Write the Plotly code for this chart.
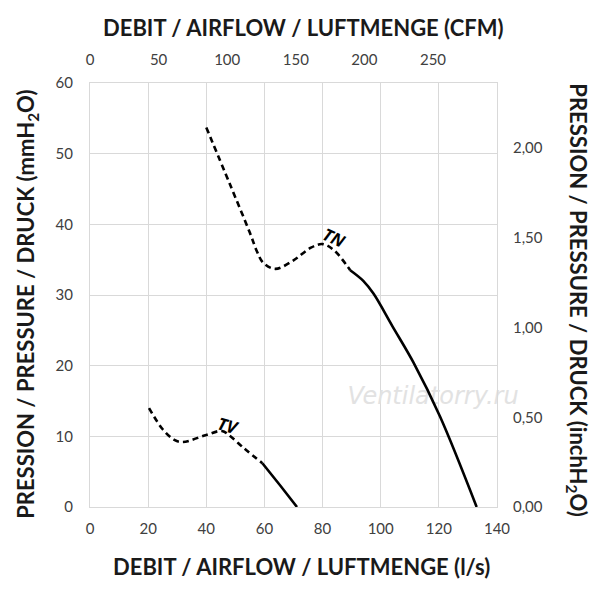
import plotly.graph_objects as go

# ---- data ----
tn_dash_x = [40, 48, 55, 57.4, 59.5, 63.7, 70, 76, 80, 84, 89.5]
tn_dash_y = [53.7, 45.8, 38.8, 36.2, 34.6, 33.7, 34.9, 36.7, 37.2, 36.3, 33.5]
tn_solid_x = [89.5, 94, 97.5, 104, 111.2, 120.4, 133]
tn_solid_y = [33.5, 32.0, 30.2, 25.6, 20.5, 12.8, 0]

tv_dash_x = [20.3, 25, 29, 32, 40, 45.4, 48.3, 53, 59.3]
tv_dash_y = [14.0, 11.0, 9.5, 9.2, 10.2, 10.75, 10.0, 8.3, 6.2]
tv_solid_x = [59.3, 65.5, 71.2]
tv_solid_y = [6.2, 3.0, 0]

x_ticks = [0, 20, 40, 60, 80, 100, 120, 140]
y_ticks = [0, 10, 20, 30, 40, 50, 60]
cfm_ticks = [0, 50, 100, 150, 200, 250]
inch_ticks = [0, 0.5, 1.0, 1.5, 2.0]

LS_TO_CFM = 2.11888
MM_TO_INCH = 0.0393701
X_MAX = 140
Y_MAX = 60

FONT = "Lato"
TICK_COLOR = "#404040"
TITLE_COLOR = "#1a1a1a"
GRID = "#d9d9d9"

# plot area in pixels
L, R, T, B = 89.5, 497, 82.5, 507
W = H = 600


def px(x):
    return (x - L) / (R - L)


def py(y):
    return (B - y) / (B - T)


fig = go.Figure()

# watermark (drawn beneath the curves)
fig.add_trace(go.Scatter(
    x=[118], y=[15.4], mode="text", text=["<i>Ventilatorry.ru</i>"],
    textfont=dict(family="DejaVu Sans", size=24, color="#e2e2e2"),
    cliponaxis=False, hoverinfo="skip", showlegend=False))

line_dash = dict(color="black", width=2.6, dash="6px,4px", shape="spline", smoothing=1.0)
line_solid = dict(color="black", width=2.6, shape="spline", smoothing=1.0)

fig.add_trace(go.Scatter(x=tn_dash_x, y=tn_dash_y, mode="lines", line=line_dash, showlegend=False))
fig.add_trace(go.Scatter(x=tn_solid_x, y=tn_solid_y, mode="lines", line=line_solid, showlegend=False))
fig.add_trace(go.Scatter(x=tv_dash_x, y=tv_dash_y, mode="lines", line=line_dash, showlegend=False))
fig.add_trace(go.Scatter(x=tv_solid_x, y=tv_solid_y, mode="lines", line=line_solid, showlegend=False))

# invisible trace to anchor the secondary axes
fig.add_trace(go.Scatter(x=[0], y=[0], xaxis="x2", yaxis="y2", mode="markers",
                         marker=dict(opacity=0), hoverinfo="skip", showlegend=False))

tick_font = dict(family=FONT, size=15, color=TICK_COLOR)
fig.update_layout(
    width=W, height=H,
    margin=dict(l=L, r=W - R, t=T, b=H - B),
    paper_bgcolor="white", plot_bgcolor="white",
    separators=",.",
    font=dict(family=FONT, size=15, color=TICK_COLOR),
    xaxis=dict(range=[0, X_MAX], tickvals=x_ticks, showgrid=True, gridcolor=GRID, gridwidth=1,
               zeroline=False, showline=True, linecolor=GRID, mirror=True,
               ticks="outside", ticklen=8, tickcolor="rgba(0,0,0,0)", tickfont=tick_font),
    yaxis=dict(range=[0, Y_MAX], tickvals=y_ticks, showgrid=True, gridcolor=GRID, gridwidth=1,
               zeroline=False, showline=True, linecolor=GRID, mirror=True,
               ticks="outside", ticklen=13, tickcolor="rgba(0,0,0,0)", tickfont=tick_font),
    xaxis2=dict(range=[0, X_MAX * LS_TO_CFM], tickvals=cfm_ticks, overlaying="x", side="top",
                showgrid=False, zeroline=False, showline=False,
                ticks="outside", ticklen=11, tickcolor="rgba(0,0,0,0)", tickfont=tick_font),
    yaxis2=dict(range=[0, Y_MAX * MM_TO_INCH], tickvals=inch_ticks, tickformat=".2f",
                overlaying="y", side="right", anchor="x",
                showgrid=False, zeroline=False, showline=False,
                ticks="outside", ticklen=12, tickcolor="rgba(0,0,0,0)", tickfont=tick_font),
)

title_font = dict(family=FONT, size=22, color=TITLE_COLOR)
label_font = dict(family="Open Sans", size=17, color="black")
ann = [
    dict(x=px(301), y=py(567), text="<b>DEBIT / AIRFLOW / LUFTMENGE (l/s)</b>", font=title_font),
    dict(x=px(303), y=py(27), text="<b>DEBIT / AIRFLOW / LUFTMENGE (CFM)</b>", font=title_font),
    dict(x=px(27), y=py(304), text="<b>PRESSION / PRESSURE / DRUCK (mmH<sub>2</sub>O)</b>",
         font=title_font, textangle=-90),
    dict(x=px(577), y=py(300), text="<b>PRESSION / PRESSURE / DRUCK (inchH<sub>2</sub>O)</b>",
         font=title_font, textangle=90),
    dict(x=px(334), y=py(237), text="<b><i>TN</i></b>", font=label_font, textangle=25),
    dict(x=px(228), y=py(425), text="<b><i>TV</i></b>", font=label_font, textangle=15),
]
for a in ann:
    a.update(xref="paper", yref="paper", showarrow=False, xanchor="center", yanchor="middle")
fig.update_layout(annotations=ann)

fig.write_html("out.html", config={"displayModeBar": False},
               post_script="document.body.style.margin='0';")
